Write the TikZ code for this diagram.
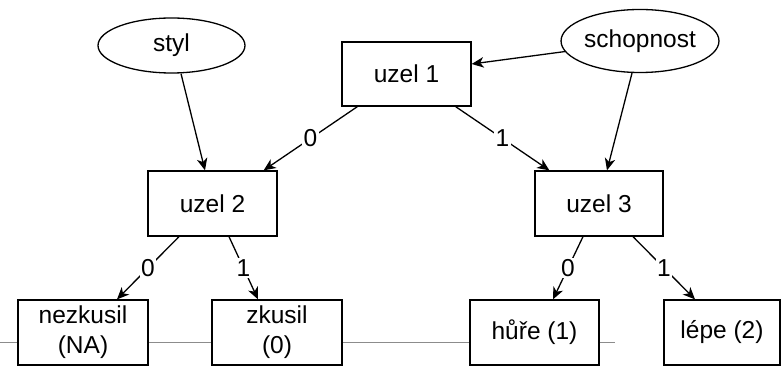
\documentclass[tikz,border=0pt]{standalone}
\usepackage{fontspec}
\setmainfont{Liberation Sans}
\usetikzlibrary{arrows.meta,shapes.geometric,calc}

\begin{document}
\begin{tikzpicture}[x=1pt,y=-1pt,
  txt/.style={font=\fontsize{24.5}{30}\selectfont},
  box/.style={txt, draw=black, line width=1.3pt, fill=white, rectangle,
              minimum width=#1, minimum height=65pt, inner sep=0pt, align=center},
  box/.default=129pt,
  oval/.style={txt, ellipse, draw=black, line width=1.3pt, fill=white,
               minimum width=#1, inner sep=0pt},
  arr/.style={line width=1.3pt, -{Stealth[length=12pt,width=10.5pt,inset=3.5pt]}},
  lbl/.style={txt, fill=white, inner sep=1.5pt},
  rail/.style={draw=black!45, line width=1pt}
]
\useasboundingbox (0,0) rectangle (782,366);

% horizontal rule behind the leaves
\coordinate (railL) at (0,342);
\coordinate (railR) at (615,342);
\draw[rail] (railL) -- (railR);

% inner decision nodes
\node[box, minimum height=64pt] (u1) at (406.5,74) {uzel 1};
\node[box] (u2) at (212.5,203.5) {uzel 2};
\node[box=128pt] (u3) at (599,203.5) {uzel 3};

% leaves
\node[box=130pt] (nezk) at (83,332.5) {nezkusil\\(NA)};
\node[box=130pt] (zkus) at (277,332.5) {zkusil\\(0)};
\node[box] (hure) at (534.5,332.5) {hůře (1)};
\node[box=116pt] (lepe) at (722,332.5) {lépe (2)};

% covariates
\node[oval=147pt, minimum height=55pt] (styl) at (171.5,45.5) {styl};
\node[oval=146pt, minimum height=63pt] (schop) at (640,41) {schopnost};

% splits
\draw[arr] ($(u1.south west)+(16,0)$) -- node[lbl]{0} ($(u2.north east)+(-14,0)$);
\draw[arr] ($(u1.south east)+(-16,0)$) -- node[lbl]{1} ($(u3.north west)+(15,0)$);
\draw[arr] ($(u2.south)+(-33.5,0)$) -- node[lbl]{0} ($(nezk.north)+(34,0)$);
\draw[arr] ($(u2.south)+(16.5,0)$) -- node[lbl]{1} ($(zkus.north)+(-19,0)$);
\draw[arr] ($(u3.south)+(-16,0)$) -- node[lbl]{0} ($(hure.north)+(18.5,0)$);
\draw[arr] ($(u3.south)+(34,0)$) -- node[lbl]{1} ($(lepe.north)+(-27,0)$);

% covariate links
\draw[arr] ($(styl.south)+(9.5,0)$) -- ($(u2.north)+(-7.5,0)$);
\draw[arr] (schop.188) -- ($(u1.east)+(0,-10)$);
\draw[arr] ($(schop.south)+(-8,0)$) -- ($(u3.north)+(8,0)$);
\end{tikzpicture}
\end{document}
